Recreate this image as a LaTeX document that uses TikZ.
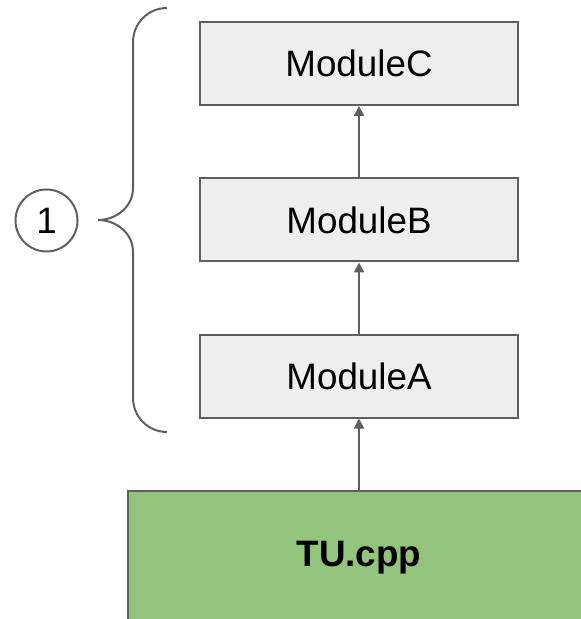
\documentclass[tikz,border=0pt]{standalone}
\usepackage{fontspec}
\setmainfont{Liberation Sans}
\usepackage{tikz}
\usetikzlibrary{arrows.meta,shapes,positioning,calc}
\usepackage{xcolor}
\definecolor{mdgray}{RGB}{95,95,95}
\definecolor{mdfill}{RGB}{238,238,238}
\definecolor{tugreen}{RGB}{147,196,125}
\tikzstyle{arrow} = [line width=1pt,-{Triangle[length=5pt,width=5pt]},color=mdgray]
\tikzstyle{modbox} = [rectangle, draw=mdgray, line width=1pt, fill=mdfill, minimum width=159pt, minimum height=41.5pt, font=\fontsize{18.4pt}{22pt}\selectfont]

\begin{document}
\begin{tikzpicture}[x=0.5pt, y=-0.5pt]
    \useasboundingbox (0,0) rectangle (581,619);
    \clip (0,0) rectangle (581,619);

    % Modules
    \node[modbox] (modc) at (359, 63.5) {ModuleC};
    \node[modbox] (modb) at (359, 220) {ModuleB};
    \node[modbox] (moda) at (359, 376) {ModuleA};

    % Translation unit
    \node[rectangle, draw=mdgray, line width=1pt, fill=tugreen, minimum width=231pt, minimum height=67pt, font=\fontsize{18.4pt}{22pt}\selectfont\bfseries] (tu) at (359, 558) {TU.cpp};

    % Arrows
    \draw[arrow] (tu) -- (moda);
    \draw[arrow] (moda) -- (modb);
    \draw[arrow] (modb) -- (modc);

    % Brace
    \draw[line width=1pt, color=mdgray] (167, 8) to[out=180, in=90] (133, 42) -- (133, 188)
        to[out=-90, in=0] (98, 220) to[out=0, in=90] (133, 252) -- (133, 398)
        to[out=-90, in=180] (167, 432);

    % Label
    \node[circle, draw=mdgray, line width=1pt, minimum size=31pt, inner sep=0pt, font=\fontsize{18.4pt}{22pt}\selectfont] (one) at (46.5, 220.5) {1};
\end{tikzpicture}
\end{document}
